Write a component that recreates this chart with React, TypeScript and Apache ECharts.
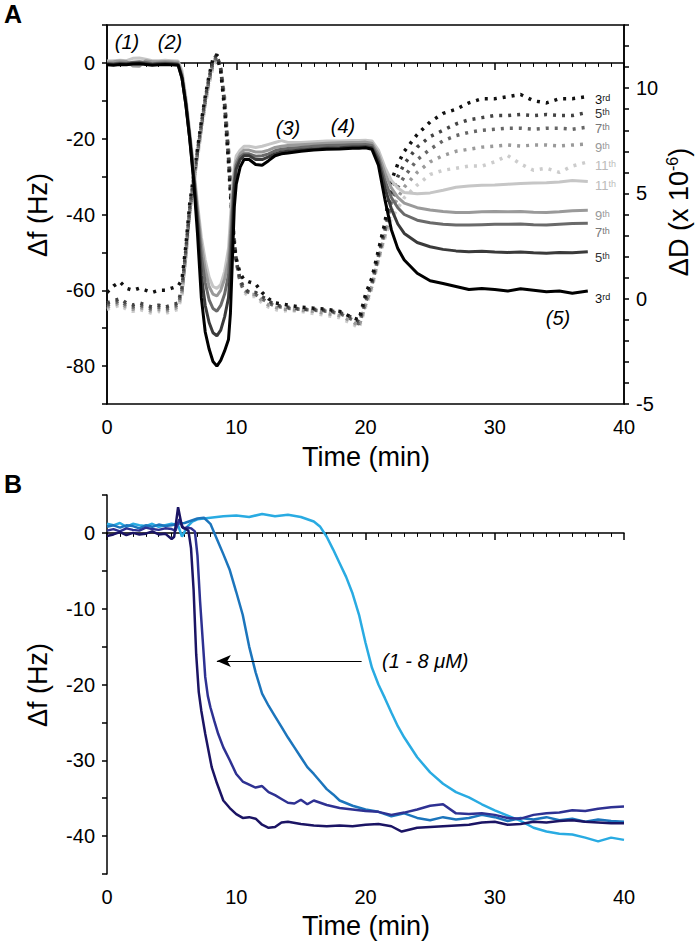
import React, { useEffect, useRef } from "react";
import * as echarts from "echarts";

const FONT = "Liberation Sans, Arial, sans-serif";

// ---------- Panel A (time grid shared by all A series) ----------
const tA = [0,0.5,1,1.5,2,2.5,3,3.5,4,4.5,5,5.5,5.8,6.1,6.4,6.7,7.0,7.3,7.6,7.9,8.2,8.5,8.8,9.1,9.4,9.55,9.7,9.85,10.0,10.3,10.6,11.0,11.5,12,12.5,13,13.5,14,15,16,17,18,19,19.5,20,20.5,21,21.5,22,22.5,23,24,25,26,27,28,29,30,31,32,33,34,35,36,37.2];

// Δf (Hz), solid, left axis
const f3 = [-0.5,-0.6,-0.4,-0.5,-0.3,-0.2,-0.4,-0.6,-0.5,-0.4,
 -0.5,-0.6,-4,-11,-20,-31,-45,-62,-71,-75.5,
 -78.8,-80,-78.5,-76,-73,-66,-52,-38,-32,-27.5,
 -25.5,-25.5,-26.8,-27,-25.8,-24.5,-24,-23.8,-23.3,-23,
 -22.8,-22.7,-22.5,-22.5,-22.4,-22.8,-27,-36,-44,-49,
 -52,-55.5,-57.5,-58.2,-59,-59.8,-59.5,-59.8,-60.2,-59.6,
 -60,-60.4,-60.2,-60.8,-60.2];
const f5 = [-0.3,-0.4,-0.2,-0.3,-0.1,0,-0.2,-0.4,-0.3,-0.2,
 -0.3,-0.4,-4,-11,-20,-30,-42,-56,-64,-68.5,
 -71.2,-72,-70.5,-67,-62,-55,-44,-33,-28,-25.5,
 -24.5,-24.5,-25.5,-25.5,-24.8,-24,-23.5,-23.3,-23,-22.7,
 -22.5,-22.4,-22.2,-22.2,-22.1,-22.4,-26,-33,-38.5,-42.5,
 -45,-47.4,-48.5,-49.2,-49.6,-49.8,-49.7,-49.9,-50,-49.9,
 -50.1,-50.2,-50,-50.1,-49.8];
const f7 = [-0.2,-0.2,0,-0.1,0.2,0.3,0.1,-0.2,-0.1,0,
 -0.1,-0.2,-3.5,-10.5,-19.5,-29,-40,-51,-58,-62.5,
 -64.8,-65.5,-64,-61,-56,-49,-39,-31,-27,-24.8,
 -24,-24,-24.6,-24.5,-24,-23.2,-22.8,-22.6,-22.3,-22,
 -21.8,-21.7,-21.6,-21.6,-21.5,-21.8,-25,-31,-35.5,-38.2,
 -40,-41.5,-42.2,-42.6,-42.8,-42.8,-42.7,-42.6,-42.6,-42.5,
 -42.7,-42.8,-42.6,-42.4,-42.3];
const f9 = [0.2,0.3,0.5,0.4,-0.8,-0.9,0.6,0.3,0.3,0.4,
 0.3,0.2,-3,-10,-19,-28.5,-38.5,-48,-54.5,-59,
 -61,-61.5,-60,-57,-52,-45,-36,-29.5,-26,-24,
 -23,-23,-23.5,-23.5,-23,-22.3,-22,-21.8,-21.6,-21.4,
 -21.2,-21.1,-21,-21,-20.9,-21.2,-24,-29,-33,-35.5,
 -37,-38.2,-38.8,-39.2,-39.5,-39.5,-39.3,-39.2,-39.3,-39.2,
 -39.4,-39.5,-39.3,-39,-38.9];
const f11 = [0.5,0.6,0.7,0.6,1.2,1.3,1.0,0.6,0.6,0.7,
 0.6,0.5,-2,-9,-18,-27.5,-37,-46,-52,-56.5,
 -59,-59.5,-58.5,-55,-49,-41,-33,-27.5,-24.5,-23,
 -22,-22,-22.3,-22,-21.5,-21,-20.5,-21,-21,-20.8,
 -20.6,-20.6,-20.5,-20.5,-20.4,-20.6,-23,-27.5,-31,-33,
 -34.2,-34.5,-34.3,-33.6,-32.8,-32.5,-32.3,-32.2,-32,-31.8,
 -31.7,-31.6,-31.4,-31,-31.3];

// ΔD (x10^-6), dotted, right axis
const d3 = [0.3,0.6,0.8,0.5,0.4,0.5,0.4,0.3,0.4,0.4,
 0.5,0.6,0.9,2.5,4.5,5.8,7.1,8.4,9.6,10.6,
 11.4,11.6,10.8,9.0,6.5,5.0,3.5,2.5,1.9,1.2,
 0.9,0.8,0.7,0.3,0.0,-0.2,-0.25,-0.3,-0.4,-0.45,
 -0.5,-0.6,-0.9,-1.0,0.2,1.0,2.3,3.6,5.6,6.4,
 7.0,7.8,8.4,8.8,9.0,9.3,9.5,9.5,9.6,9.7,
 9.4,9.3,9.5,9.5,9.6];
const d5 = [-0.2,-0.1,0,-0.2,-0.3,-0.2,-0.3,-0.4,-0.3,-0.4,
 -0.3,-0.2,0.5,2.3,4.3,5.7,7.0,8.3,9.5,10.5,
 11.3,11.6,10.9,9.2,6.7,5.2,3.7,2.6,1.8,0.9,
 0.5,0.3,0.3,0.1,-0.1,-0.3,-0.35,-0.4,-0.5,-0.5,
 -0.55,-0.65,-0.9,-1.1,0,0.8,2.1,3.4,5.0,5.8,
 6.4,7.2,7.7,8.0,8.3,8.5,8.6,8.7,8.7,8.75,
 8.7,8.75,8.7,8.7,8.85];
const d7 = [-0.3,-0.2,-0.1,-0.3,-0.4,-0.3,-0.4,-0.5,-0.4,-0.5,
 -0.4,-0.3,0.4,2.2,4.2,5.6,6.9,8.2,9.4,10.4,
 11.2,11.5,10.9,9.3,6.9,5.4,3.8,2.7,1.8,0.8,
 0.4,0.3,0.2,0,-0.2,-0.35,-0.4,-0.45,-0.5,-0.55,
 -0.6,-0.7,-1.0,-1.2,-0.2,0.7,2.0,3.2,4.6,5.3,
 5.8,6.6,7.1,7.5,7.75,7.9,8.0,8.05,8.1,8.1,
 8.05,8.1,8.1,8.05,8.15];
const d9 = [-0.4,-0.3,-0.2,-0.4,-0.5,-0.4,-0.5,-0.6,-0.5,-0.6,
 -0.5,-0.4,0.3,2.1,4.1,5.5,6.8,8.1,9.3,10.3,
 11.1,11.5,11.0,9.5,7.1,5.6,3.9,2.8,1.8,0.8,
 0.4,0.2,0.2,-0.1,-0.3,-0.4,-0.5,-0.5,-0.55,-0.6,
 -0.7,-0.8,-1.1,-1.3,-0.3,0.6,1.9,3.0,4.2,4.8,
 5.3,6.0,6.5,6.8,7.0,7.1,7.2,7.25,7.3,7.25,
 7.3,7.3,7.25,7.3,7.35];
const d11 = [-0.5,-0.4,-0.3,-0.5,-0.6,-0.5,-0.6,-0.7,-0.6,-0.7,
 -0.6,-0.5,0.2,2.0,4.0,5.4,6.7,8.0,9.2,10.2,
 11.0,11.4,11.0,9.6,7.3,5.8,4.0,2.9,1.9,0.8,
 0.3,0.1,0.1,-0.2,-0.4,-0.5,-0.6,-0.55,-0.6,-0.7,
 -0.8,-0.9,-1.2,-1.4,-0.4,0.5,1.8,2.9,3.8,4.3,
 4.8,5.4,5.9,6.1,6.2,6.3,6.3,6.5,6.8,6.4,
 6.1,6.2,6.0,6.3,6.5];

const harmonics = ["3", "5", "7", "9", "11"];
const harmonicSuffix = ["rd", "th", "th", "th", "th"];

// ---------- Panel B ----------
const tB1 = [0,0.5,1,1.5,2,2.5,3,3.5,4,4.5,5,5.5,5.8,6.2,6.6,7,8,9,10,11,12,13,14,15,16,16.5,17,17.5,18,18.5,19,19.5,20,20.5,21,21.5,22,22.5,23,24,25,26,27,28,29,30,31,32,33,34,35,36,37,38,39,40];
const vB1 = [1.2,1.0,1.3,0.8,1.2,1.0,0.9,1.2,0.8,1.0,1.2,1.0,
 -0.5,0.8,1.5,1.8,
 2.0,2.2,2.3,2.1,2.5,2.2,2.4,2.1,1.5,
 0.8,-0.5,-2.2,-4.0,-5.8,-8.0,-10.8,-14.5,-17.8,-20,-21.8,-23.7,-25.5,-27.0,
 -29.6,-31.6,-33.1,-34.2,-34.9,-35.8,-36.6,-37.3,-38.0,-38.9,-39.4,-39.7,-39.8,-40.2,-40.7,-40.2,-40.5];

const tB2 = [0,0.5,1,1.5,2,2.5,3,3.5,4,4.5,5,5.5,6,6.5,7,7.5,8,8.5,9,9.5,10,10.5,11,11.5,12,12.5,13,13.5,14,14.5,15,15.5,16,16.5,17,17.5,18,19,20,21,22,23,24,25,26,27,28,29,30,31,32,33,34,35,36,37,38,39,40];
const vB2 = [0.8,1.0,0.7,1.0,0.9,0.6,1.0,0.8,1.1,0.9,1.0,1.2,
 1.3,1.6,1.9,2.0,1.2,-0.8,-2.8,-4.9,-7.8,-10.8,-15,-18.4,-21.2,-22.8,-24.2,-25.6,-27,-28.3,-29.6,-30.9,-31.8,-32.8,-33.8,-34.5,-35.3,
 -36.0,-36.5,-36.8,-37.4,-37.0,-37.6,-37.9,-37.5,-37.8,-37.6,-37.2,-37.5,-38.0,-37.6,-37.8,-37.5,-37.9,-37.7,-38.1,-37.8,-38.0,-38.1];

const tB3 = [0,0.5,1,1.5,2,2.5,3,3.5,4,4.5,5,5.3,5.6,5.9,6.2,6.5,6.8,7.0,7.2,7.4,7.6,7.8,8.0,8.3,8.6,9.0,9.5,10,10.5,11,11.5,12,12.5,13,13.5,14,14.5,15,15.5,16,17,18,19,20,21,22,23,24,25,26,27,28,29,30,31,32,33,34,35,36,37,38,39,40];
const vB3 = [0.3,0.5,0.2,0.6,0.4,0.3,0.7,0.5,0.4,0.6,0.5,
 0.3,1.8,0.6,0.7,0.6,0.2,
 -3,-9,-14,-19,-21.5,-23,
 -24.8,-26.5,-28.3,
 -30,-31.8,-32.8,-33.2,-33.6,-33.4,-34.2,-34.6,-35.1,-35.6,-35.7,-35.2,-35.8,-35.3,
 -35.9,-36.3,-36.5,-36.7,-36.8,-37.2,-36.9,-36.5,-36.0,-35.8,-37.0,-37.1,-37.0,-37.2,-37.6,-37.7,-37.2,-37.0,-36.9,-36.6,-36.7,-36.4,-36.2,-36.1];

const tB4 = [0,0.5,1,1.5,2,2.5,3,3.5,4,4.5,5,5.2,5.5,5.8,6.1,6.3,6.5,6.7,6.9,7.1,7.3,7.6,8.1,8.5,9,9.5,10,10.5,11,11.5,12,12.5,13,13.5,14,15,16,17,18,19,20,21,22,22.8,24,25,26,27,28,29,30,31,32,33,34,35,36,37,38,39,40];
const vB4 = [-0.4,-0.2,0.1,-0.3,0,-0.2,-0.1,0.2,-0.2,-0.1,-0.8,
 -0.5,3.4,0.8,0.5,0.3,-2,-7.5,-16,-21,-23.5,-26.5,
 -30.9,-33,
 -35.3,-36.3,-37.1,-37.6,-37.5,-37.7,-38.5,-38.9,-38.8,-38.2,-38.1,
 -38.4,-38.6,-38.7,-38.6,-38.7,-38.5,-38.4,-38.7,
 -39.4,
 -38.9,-38.8,-38.7,-38.6,-38.5,-38.2,-38.1,-38.5,-38.4,-38.1,-38.2,-38.0,-37.9,-38.1,-38.2,-38.3,-38.3];

const arrowY = -16.9;
const arrowFrom = 19.7;
const arrowTo = 8.5;

const zip = (t: number[], v: number[]) => t.map((x, i) => [x, v[i]]);

const solidColors = ["#000000", "#3a3a3a", "#6a6a6a", "#9a9a9a", "#c6c6c6"];
const dotColors = ["#111111", "#444444", "#666666", "#9a9a9a", "#cccccc"];
const labelColors = ["#111111", "#333333", "#777777", "#999999", "#bbbbbb"];
const blueColors = ["#29abe2", "#1c75bc", "#2e3192", "#1b1464"];

export default function App() {
  const ref = useRef<HTMLDivElement>(null);
  useEffect(() => {
    if (!ref.current) return;
    const chart = echarts.init(ref.current, undefined, { renderer: "svg" });

    const axisLine = { show: true, lineStyle: { color: "#000", width: 1.5 } };
    const lbl = (mod: number) => ({
      color: "#000",
      fontSize: 20,
      fontFamily: FONT,
      margin: 12,
      formatter: (v: number) => (Math.round(v) % mod === 0 ? String(Math.round(v)) : ""),
    });
    const xAxisBase = (grid: number) => ({
      type: "value",
      gridIndex: grid,
      min: 0,
      max: 40,
      interval: 10,
      axisLine,
      axisTick: { show: true, inside: false, length: 7, lineStyle: { color: "#000", width: 1.5 } },
      minorTick: { show: true, splitNumber: 10, length: 4, lineStyle: { color: "#000", width: 1 } },
      splitLine: { show: false },
      minorSplitLine: { show: false },
      axisLabel: { ...lbl(10), margin: 13 },
    });
    const yTick = { show: true, inside: false, length: 5, lineStyle: { color: "#000", width: 1.5 } };

    const fList = [f3, f5, f7, f9, f11];
    const dList = [d3, d5, d7, d9, d11];

    const series: any[] = [];
    for (let i = 4; i >= 0; i--) {
      series.push({
        type: "line",
        xAxisIndex: 0,
        yAxisIndex: 1,
        data: zip(tA, dList[i]),
        showSymbol: false,
        symbol: "none",
        lineStyle: { color: dotColors[i], width: 3.5, type: [3, 6], cap: "butt" },
        z: 2,
      });
    }
    for (let i = 4; i >= 0; i--) {
      series.push({
        type: "line",
        xAxisIndex: 0,
        yAxisIndex: 0,
        data: zip(tA, fList[i]),
        showSymbol: false,
        symbol: "none",
        lineStyle: { color: solidColors[i], width: 3 },
        z: 3,
      });
    }
    const bT = [tB1, tB2, tB3, tB4];
    const bV = [vB1, vB2, vB3, vB4];
    for (let i = 0; i < 4; i++) {
      series.push({
        type: "line",
        xAxisIndex: 1,
        yAxisIndex: 2,
        data: zip(bT[i], bV[i]),
        showSymbol: false,
        symbol: "none",
        lineStyle: { color: blueColors[i], width: 2.5 },
        z: 3,
        ...(i === 0
          ? {
              markLine: {
                silent: true,
                symbol: ["none", "arrow"],
                symbolSize: [9, 14],
                label: { show: false },
                lineStyle: { color: "#000", width: 1.2, type: "solid" },
                data: [[{ coord: [arrowFrom, arrowY] }, { coord: [arrowTo, arrowY] }]],
              },
            }
          : {}),
      });
    }

    const txt = (x: number, y: number, text: string, opts: any = {}) => ({
      type: "text",
      x,
      y,
      rotation: opts.rotation || 0,
      style: {
        text,
        fill: opts.fill || "#000",
        fontSize: opts.fontSize || 20,
        fontFamily: FONT,
        fontStyle: opts.fontStyle || "normal",
        fontWeight: opts.fontWeight || "normal",
        align: opts.align || "center",
        verticalAlign: opts.verticalAlign || "middle",
        rich: opts.rich,
      },
    });

    const harmLabelYDot = [99, 113, 128, 147, 165];
    const harmLabelYSolid = [298, 257, 232, 215, 185];
    const graphics: any[] = [
      txt(4, 14, "A", { fontSize: 25, fontWeight: "bold", align: "left" }),
      txt(4, 484, "B", { fontSize: 25, fontWeight: "bold", align: "left" }),
      txt(127, 42, "(1)", { fontStyle: "italic" }),
      txt(170, 42, "(2)", { fontStyle: "italic" }),
      txt(288, 128, "(3)", { fontStyle: "italic" }),
      txt(343, 126, "(4)", { fontStyle: "italic" }),
      txt(558, 318, "(5)", { fontStyle: "italic" }),
      txt(38, 215, "Δf (Hz)", { fontSize: 27, rotation: Math.PI / 2 }),
      txt(38, 685, "Δf (Hz)", { fontSize: 27, rotation: Math.PI / 2 }),
      txt(366, 457, "Time (min)", { fontSize: 27 }),
      txt(366, 926, "Time (min)", { fontSize: 27 }),
      txt(382, 661, "(1 - 8 μM)", { fontStyle: "italic", align: "left" }),
      txt(679, 212, "{a|ΔD (x 10}{b|-6}{a|)}", {
        rotation: Math.PI / 2,
        rich: {
          a: { fontSize: 27, fontFamily: FONT, lineHeight: 30, fill: "#000" },
          b: { fontSize: 16, fontFamily: FONT, lineHeight: 16, verticalAlign: "top", fill: "#000" },
        },
      }),
    ];
    for (let i = 0; i < 5; i++) {
      const rich = {
        n: { fontSize: 13, fontFamily: FONT, lineHeight: 12, fill: labelColors[i] },
        s: { fontSize: 9, fontFamily: FONT, lineHeight: 5, verticalAlign: "top", fill: labelColors[i] },
      };
      const t = `{n|${harmonics[i]}}{s|${harmonicSuffix[i]}}`;
      graphics.push(txt(595, harmLabelYDot[i], t, { align: "left", rich }));
      graphics.push(txt(595, harmLabelYSolid[i], t, { align: "left", rich }));
    }

    chart.setOption({
      animation: false,
      backgroundColor: "#fff",
      grid: [
        { left: 107, top: 25, width: 517, height: 379, show: true, borderColor: "#000", borderWidth: 1.5, outerBoundsMode: "none" },
        { left: 107, top: 495, width: 517, height: 379, outerBoundsMode: "none" },
      ],
      xAxis: [xAxisBase(0), xAxisBase(1)],
      yAxis: [
        {
          type: "value", gridIndex: 0, min: -90, max: 10, interval: 10,
          axisLine, axisTick: yTick, splitLine: { show: false }, axisLabel: lbl(20),
        },
        {
          type: "value", gridIndex: 0, position: "right", min: -5, max: 13, interval: 1,
          axisLine, axisTick: yTick, splitLine: { show: false }, axisLabel: lbl(5), alignTicks: false,
        },
        {
          type: "value", gridIndex: 1, min: -45, max: 5, interval: 5,
          axisLine, axisTick: yTick, splitLine: { show: false }, axisLabel: lbl(10),
        },
      ],
      series,
      graphic: graphics,
    });
    return () => chart.dispose();
  }, []);
  return (
    <div
      ref={ref}
      style={{ position: "absolute", left: 0, top: 0, width: 700, height: 945, background: "#fff" }}
    />
  );
}
